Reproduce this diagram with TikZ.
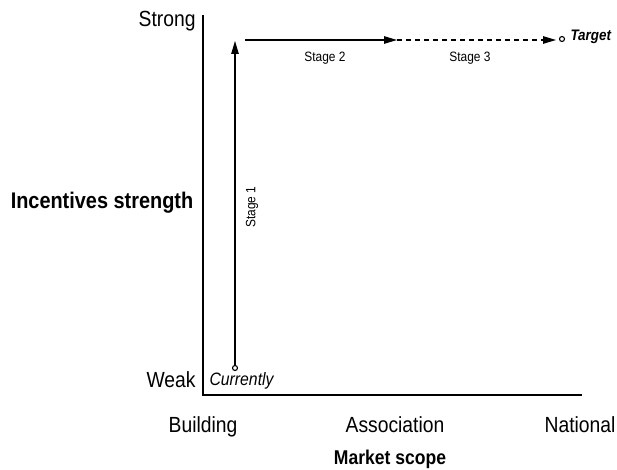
\documentclass[tikz,border=0pt]{standalone}
\usepackage{fontspec}
\setmainfont{Liberation Sans}[FakeStretch=0.88]
\usetikzlibrary{arrows.meta}

\begin{document}
\begin{tikzpicture}[x=1bp,y=-1bp,
        stagearrow/.style={line width=1.1bp,-{Triangle[length=13bp,width=7.5bp]}},
        axislabel/.style={font=\fontsize{22}{24}\selectfont},
        stagelabel/.style={font=\fontsize{13.6}{15}\selectfont},
        titlelabel/.style={font=\fontsize{20}{22}\selectfont\bfseries},
        spot/.style={circle,draw,line width=1.1bp,inner sep=0pt,minimum size=5bp}]
                \useasboundingbox (0,0) rectangle (617,470);
                % axes
                \coordinate (ytop) at (203,15);
                \coordinate (orig) at (203,395);
                \coordinate (xend) at (582,395);
                \draw [line width=1.6bp] (ytop) -- (orig) -- (xend);
                % axis texts
                \node [axislabel,anchor=east] (strong) at (199,21) {Strong};
                \node [axislabel,anchor=east] (weak) at (199,380) {Weak};
                \node [axislabel,anchor=base] (building) at (203,432) {Building};
                \node [axislabel,anchor=base] (assoc) at (395,432) {Association};
                \node [axislabel,anchor=base] (national) at (580,432) {National};
                \node [titlelabel,anchor=base] (scope) at (390,464) {Market scope};
                \node [titlelabel,font=\fontsize{22.7}{25}\selectfont\bfseries] (incent) at (102,203) {Incentives strength};
                % path
                \node [spot] (now) at (235,368) {};
                \node [font=\fontsize{18}{20}\selectfont\itshape,anchor=west] (nowtxt) at (206,381) {Currently};
                \coordinate (s1end) at (235,41);
                \coordinate (s2start) at (245,40);
                \coordinate (s2end) at (397,40);
                \coordinate (s3end) at (556,40);
                \node [spot] (target) at (562,39) {};
                \node [font=\fontsize{15.3}{17}\selectfont\bfseries\itshape,anchor=west] (targettxt) at (567,37) {Target};
                \draw [stagearrow] (now) -- (s1end);
                \draw [stagearrow] (s2start) -- (s2end);
                \draw [stagearrow,dashed,dash pattern=on 5bp off 4bp] (s2end) -- (s3end);
                \node [stagelabel,rotate=90] (st1) at (252,207) {Stage 1};
                \node [stagelabel] (st2) at (325,58) {Stage 2};
                \node [stagelabel] (st3) at (470,58) {Stage 3};
\end{tikzpicture}
\end{document}
